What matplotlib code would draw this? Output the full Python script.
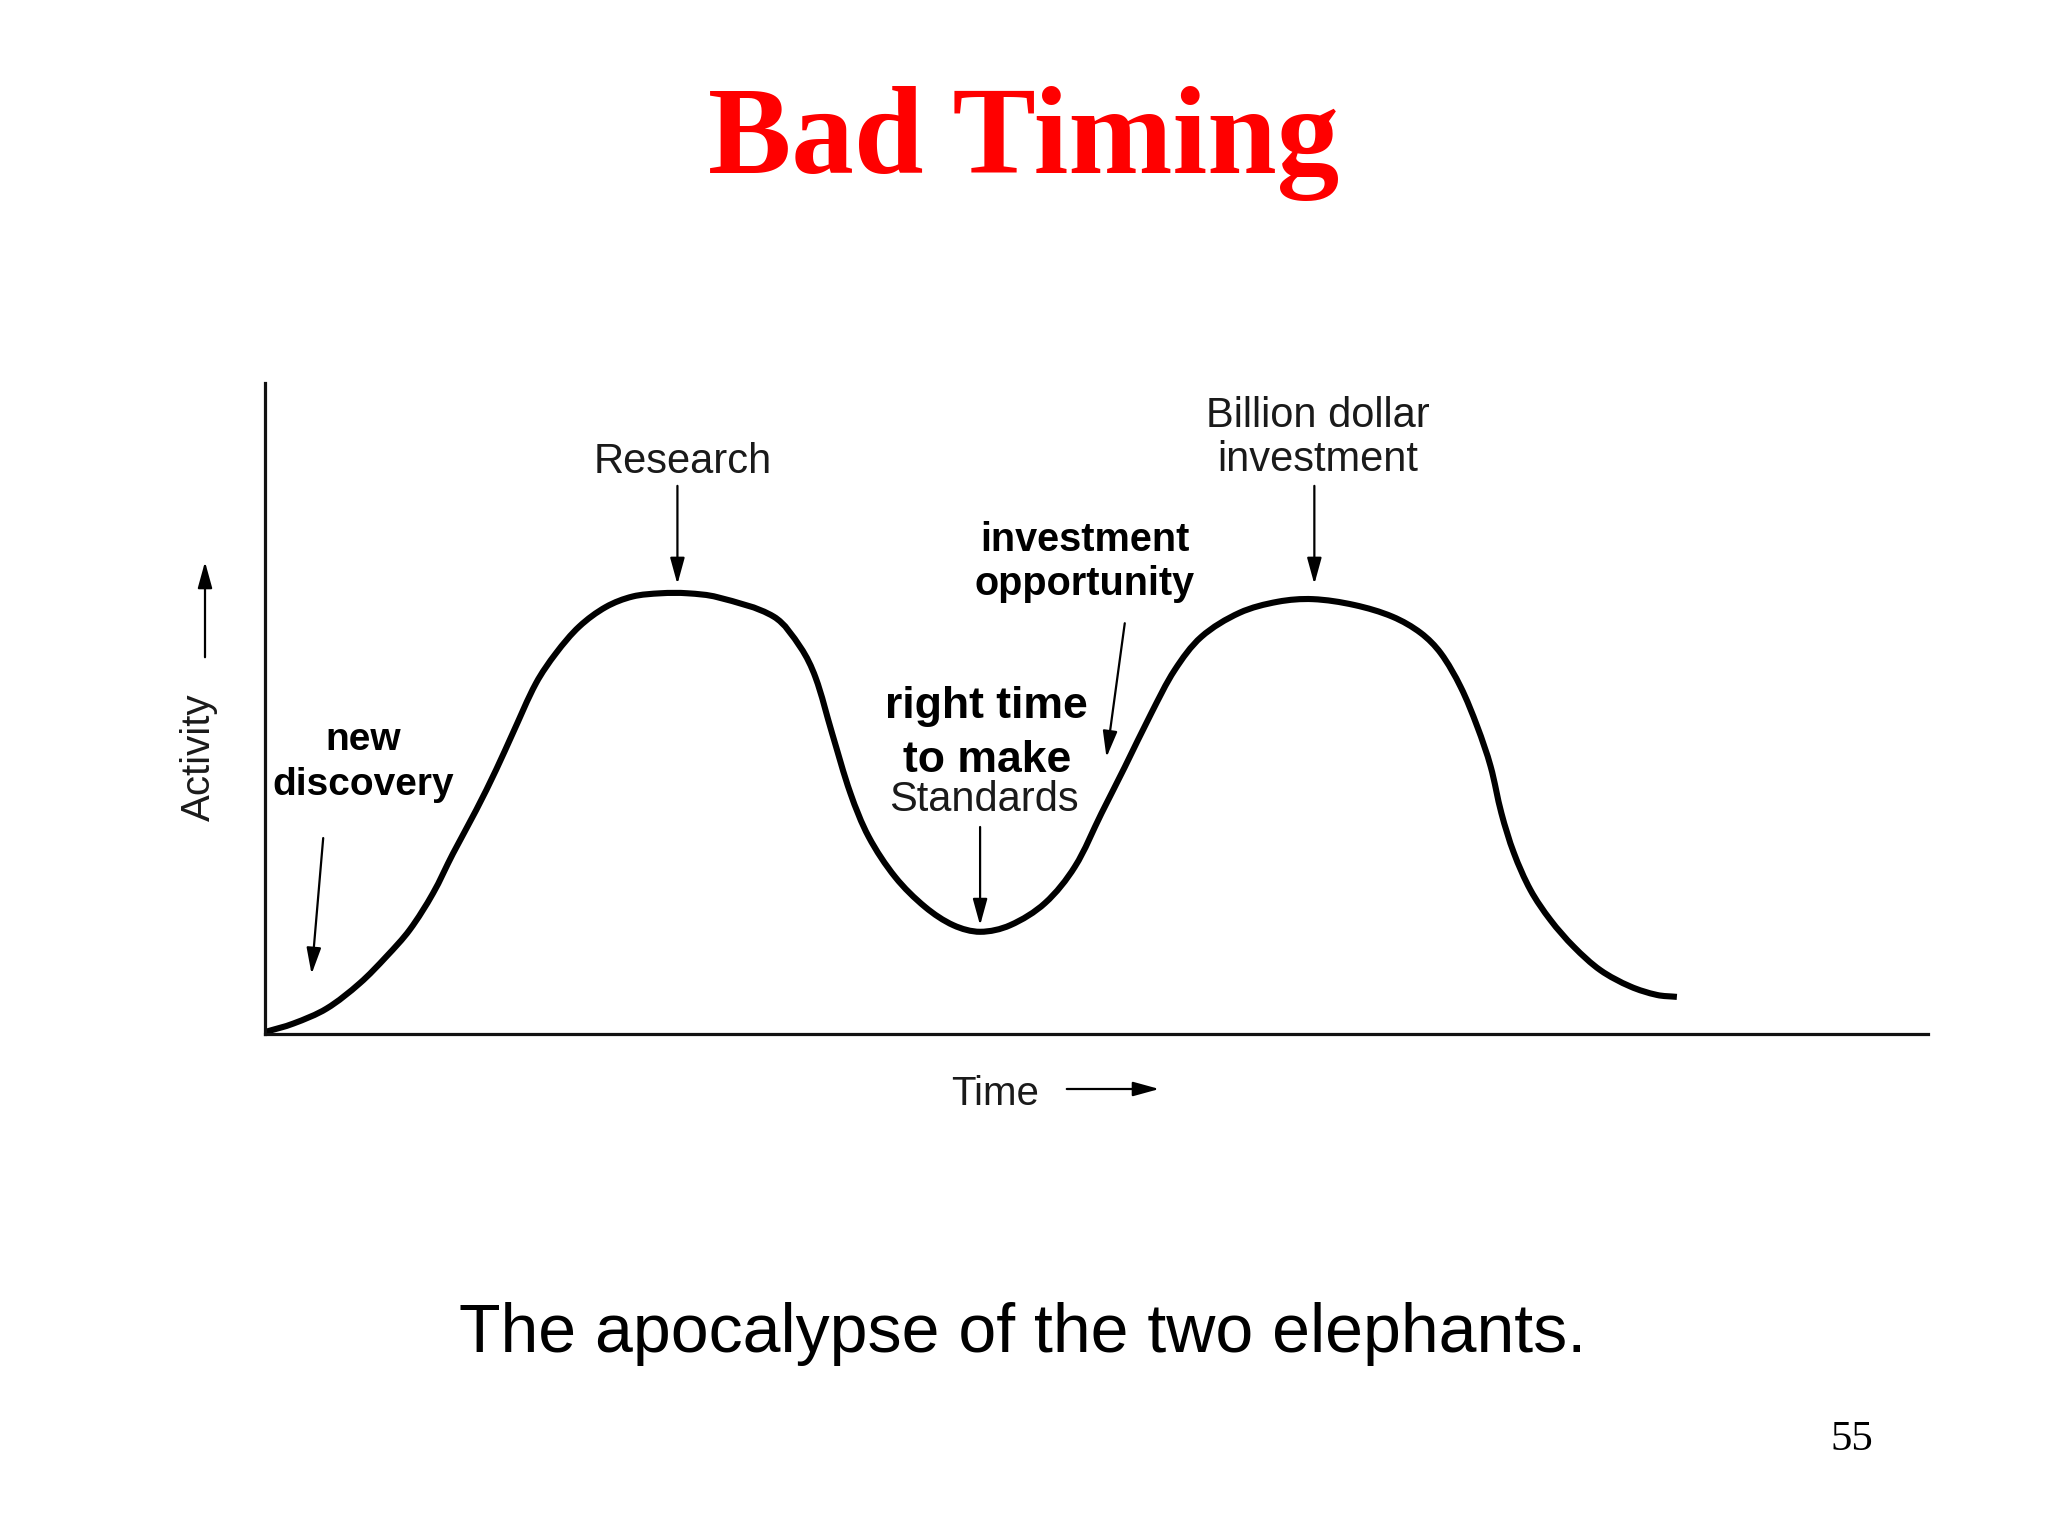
import matplotlib
matplotlib.use("Agg")
import matplotlib.pyplot as plt
from matplotlib.path import Path
from matplotlib.patches import PathPatch, FancyArrowPatch

# ---- data ----
time_pts = [0.0, 1.7, 3.7, 5.7, 7.3, 8.7, 10.1, 11.3, 12.7, 13.9,
            14.9, 16.3, 17.5, 18.9, 20.5, 22.1, 23.8, 25.4, 27.2, 30.6,
            32.2, 33.1, 34.1, 35.2, 36.3, 37.9, 39.7, 41.4, 43.0, 44.8,
            46.9, 48.7, 50.3, 51.7, 53.3, 54.7, 56.3, 58.6, 60.9, 63.0,
            65.5, 67.8, 69.5, 70.7, 71.9, 72.9, 73.7, 74.35, 75.1, 76.1,
            77.3, 78.7, 80.3, 82.1, 83.7, 84.9]
activity_pts = [0.3, 1.6, 3.9, 7.8, 11.9, 16.0, 21.6, 27.7, 34.4, 40.6,
                46.2, 53.9, 58.5, 62.6, 65.6, 67.2, 67.7, 67.7, 67.1, 64.1,
                59.4, 54.8, 46.2, 37.0, 30.3, 24.1, 19.5, 16.7, 15.7, 16.7,
                20.1, 25.7, 33.9, 41.0, 49.3, 55.9, 61.0, 64.7, 66.4, 66.8,
                65.9, 64.1, 61.6, 58.5, 53.3, 47.2, 41.1, 33.9, 27.8, 22.1,
                17.5, 13.4, 9.8, 7.3, 6.0, 5.7]

title = "Bad Timing"
subtitle = "The apocalypse of the two elephants."
page_number = "55"
x_label = "Time"
y_label = "Activity"

# labels: (lines, time-position, baselines in activity units)
top_labels = [
    (["Research"], 25.1, [86.2]),
    (["Billion dollar", "investment"], 63.3, [93.3, 86.5]),
    (["Standards"], 43.2, [34.2]),
]
bold_labels = [
    (["new", "discovery"], 5.9, [43.6, 36.7], 28),
    (["investment", "opportunity"], 49.3, [74.2, 67.4], 28.5),
    (["right time", "to make"], 43.4, [48.5, 40.2], 32),
]
# arrows: (t_from, a_from, t_to, a_to)
arrows = [
    (24.8, 84.2, 24.8, 69.1),
    (63.1, 84.2, 63.1, 69.1),
    (43.0, 31.8, 43.0, 16.7),
    (3.5, 30.1, 2.8, 9.2),
    (51.7, 63.1, 50.6, 42.5),
]

W, H = 2048, 1536
fig = plt.figure(figsize=(W / 100, H / 100), dpi=100)
fig.patch.set_facecolor("white")

def fx(px):
    return px / W

def fy(py):
    return 1 - py / H

ax_left, ax_right, ax_top, ax_bottom = 265, 1928, 383, 1034
ax = fig.add_axes([fx(ax_left), fy(ax_bottom), fx(ax_right) - fx(ax_left),
                   fy(ax_top) - fy(ax_bottom)])
ax.set_xlim(0, 100)
ax.set_ylim(0, 100)
ax.set_facecolor("none")
for s in ["top", "right"]:
    ax.spines[s].set_visible(False)
for s in ["left", "bottom"]:
    ax.spines[s].set_linewidth(2.3)
    ax.spines[s].set_color("#111111")
ax.set_xticks([])
ax.set_yticks([])

# smooth curve through the read points (chord-length Hermite drawn as Bezier)
sx = (ax_right - ax_left) / 100.0
sy = (ax_bottom - ax_top) / 100.0
pts = list(zip(time_pts, activity_pts))
n = len(pts)

def seglen(i, j):
    return (((pts[j][0] - pts[i][0]) * sx) ** 2 + ((pts[j][1] - pts[i][1]) * sy) ** 2) ** 0.5

L = [seglen(i, i + 1) for i in range(n - 1)]
tang = []
for i in range(n):
    if i == 0:
        tang.append(((pts[1][0] - pts[0][0]) / L[0], (pts[1][1] - pts[0][1]) / L[0]))
    elif i == n - 1:
        tang.append(((pts[-1][0] - pts[-2][0]) / L[-1], (pts[-1][1] - pts[-2][1]) / L[-1]))
    else:
        d = L[i - 1] + L[i]
        tang.append(((pts[i + 1][0] - pts[i - 1][0]) / d, (pts[i + 1][1] - pts[i - 1][1]) / d))

verts = [pts[0]]
codes = [Path.MOVETO]
for i in range(n - 1):
    p1, p2 = pts[i], pts[i + 1]
    k = L[i] / 3.0
    c1 = (p1[0] + tang[i][0] * k, p1[1] + tang[i][1] * k)
    c2 = (p2[0] - tang[i + 1][0] * k, p2[1] - tang[i + 1][1] * k)
    verts += [c1, c2, p2]
    codes += [Path.CURVE4] * 3
curve = PathPatch(Path(verts, codes), facecolor="none", edgecolor="black",
                  lw=4.4, capstyle="butt", joinstyle="round",
                  transform=ax.transData, clip_on=False)
ax.add_patch(curve)

sans = "Liberation Sans"
arrow_style = "-|>,head_length=0.8,head_width=0.22"

for lines, t, bases in top_labels:
    for line, b in zip(lines, bases):
        ax.text(t, b, line, ha="center", va="baseline", fontsize=30,
                family=sans, color="#1a1a1a", clip_on=False)

for lines, t, bases, size in bold_labels:
    for line, b in zip(lines, bases):
        ax.text(t, b, line, ha="center", va="baseline", fontsize=size,
                family=sans, fontweight="bold", color="black", clip_on=False)

for t0, a0, t1, a1 in arrows:
    ax.annotate("", xy=(t1, a1), xytext=(t0, a0),
                arrowprops=dict(arrowstyle=arrow_style, mutation_scale=20,
                                lw=1.6, color="black", shrinkA=0, shrinkB=0),
                annotation_clip=False)

# axis names with arrows
fig.text(fx(199), fy(757), y_label, rotation=90, ha="center", va="center",
         fontsize=29, family=sans, color="#1a1a1a")
fig.patches.append(FancyArrowPatch(
    (fx(205), fy(660)), (fx(205), fy(559)), transform=fig.transFigure,
    arrowstyle=arrow_style, mutation_scale=20, lw=1.6, color="black"))
fig.text(fx(995), fy(1105), x_label, ha="center", va="baseline",
         fontsize=29, family=sans, color="#1a1a1a")
fig.patches.append(FancyArrowPatch(
    (fx(1064), fy(1089)), (fx(1162), fy(1089)), transform=fig.transFigure,
    arrowstyle=arrow_style, mutation_scale=20, lw=1.6, color="black"))

# title, subtitle, page number
fig.text(fx(1024), fy(173), title, ha="center", va="baseline", fontsize=90,
         family="Liberation Serif", fontweight="bold", color="#ff0000")
fig.text(fx(1023), fy(1352), subtitle, ha="center", va="baseline",
         fontsize=49, family=sans, color="black")
fig.text(fx(1852), fy(1450), page_number, ha="center", va="baseline",
         fontsize=31, family="Liberation Serif", color="black")

fig.savefig("out.png", dpi=100, facecolor="white")
